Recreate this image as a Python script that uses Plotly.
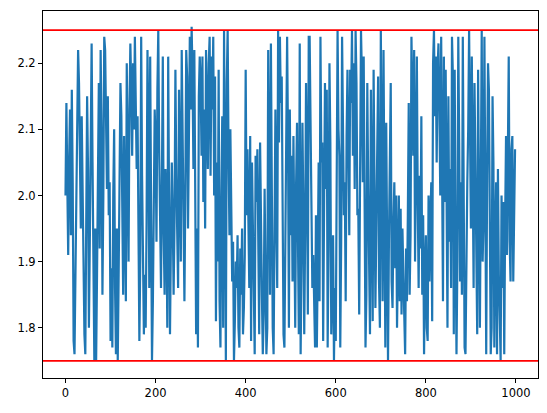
import numpy as np
import plotly.graph_objects as go

values = [
    2.00, 2.14, 2.02, 1.91, 2.05, 2.13, 1.94, 2.16, 2.02, 1.78,
    1.76, 1.90, 2.02, 2.10, 2.22, 2.17, 2.05, 1.95, 2.12, 2.00,
    1.85, 1.79, 1.76, 1.92, 2.15, 2.04, 1.80, 1.93, 2.10, 2.23,
    2.05, 1.83, 1.75, 1.95, 1.75, 1.88, 2.06, 2.17, 1.92, 2.22,
    2.10, 1.85, 2.00, 2.24, 2.22, 2.08, 2.01, 2.15, 1.97, 2.02,
    1.78, 1.89, 1.77, 2.00, 2.10, 1.86, 1.76, 1.95, 1.75, 1.88,
    2.05, 2.17, 2.12, 1.98, 1.85, 2.09, 1.95, 1.84, 2.20, 2.07,
    1.90, 2.13, 2.23, 2.16, 2.06, 2.20, 2.10, 2.24, 2.15, 2.04,
    2.12, 1.96, 1.78, 1.90, 2.24, 2.03, 1.94, 1.79, 1.88, 1.80,
    1.96, 2.22, 2.10, 1.86, 2.21, 1.95, 1.75, 1.84, 2.00, 2.13,
    2.08, 1.93, 2.16, 2.25, 2.07, 1.97, 1.86, 2.02, 2.21, 1.94,
    1.85, 2.04, 1.97, 1.80, 2.21, 1.98, 1.79, 1.93, 2.05, 1.97,
    1.85, 1.96, 2.19, 2.03, 1.92, 1.86, 2.16, 2.03, 1.90, 2.22,
    2.11, 1.97, 1.84, 2.00, 2.22, 2.18, 1.95, 2.09, 2.24, 2.13,
    2.255, 2.18, 2.04, 2.22, 1.93, 1.79, 1.95, 1.77, 2.15, 2.21,
    2.17, 2.06, 2.21, 1.99, 2.13, 1.95, 2.22, 2.11, 2.04, 2.20,
    2.24, 2.03, 2.21, 2.13, 2.24, 2.00, 2.18, 1.81, 2.05, 1.90,
    2.19, 1.84, 1.77, 2.00, 2.12, 1.80, 2.25, 2.02, 1.75, 2.17,
    2.25, 2.06, 1.94, 2.10, 1.96, 1.87, 1.93, 1.75, 1.81, 1.90,
    1.86, 1.94, 1.80, 1.77, 1.92, 1.85, 1.95, 1.79, 1.83, 1.91,
    2.19, 1.97, 2.07, 1.89, 1.86, 2.09, 1.78, 2.05, 1.95, 1.83,
    1.76, 2.06, 1.99, 2.07, 1.86, 1.79, 2.08, 1.92, 1.85, 1.76,
    1.82, 2.01, 1.91, 1.76, 1.80, 2.22, 2.04, 1.85, 2.23, 1.92,
    1.80, 1.76, 1.90, 2.13, 1.97, 1.86, 2.25, 2.08, 2.24, 2.14,
    2.18, 1.95, 1.79, 1.77, 1.92, 2.17, 2.24, 2.08, 1.80, 2.13,
    1.94, 2.06, 1.87, 2.09, 1.93, 1.80, 2.02, 2.11, 1.94, 1.79,
    2.23, 1.76, 1.90, 2.11, 1.98, 1.79, 1.94, 2.17, 2.05, 1.82,
    2.24, 2.24, 2.11, 1.95, 1.86, 1.91, 1.81, 1.77, 1.97, 1.77,
    1.90, 2.05, 1.84, 2.24, 2.05, 2.08, 1.78, 1.97, 2.17, 2.01,
    2.16, 1.77, 1.92, 2.20, 2.08, 1.79, 1.90, 1.94, 1.75, 1.86,
    1.78, 2.04, 2.25, 2.10, 2.06, 1.77, 1.93, 2.24, 2.03, 1.97,
    2.02, 1.84, 2.09, 2.19, 2.08, 1.94, 2.19, 2.14, 2.25, 2.06,
    2.20, 2.01, 2.25, 2.17, 1.97, 1.98, 1.82, 2.10, 2.25, 2.18,
    2.02, 2.21, 1.93, 1.77, 1.85, 2.17, 2.01, 1.83, 1.79, 2.16,
    1.90, 1.81, 2.19, 2.06, 1.83, 1.95, 2.08, 2.18, 1.87, 1.80,
    2.25, 2.09, 1.84, 2.22, 2.01, 1.77, 2.11, 1.98, 1.75, 1.93,
    2.02, 2.17, 1.87, 1.83, 1.96, 2.02, 1.89, 2.00, 1.80, 1.93,
    2.00, 1.84, 1.98, 1.82, 1.95, 1.88, 1.79, 1.76, 1.92, 1.84,
    1.97, 2.14, 1.85, 1.94, 2.24, 2.16, 2.06, 2.22, 1.90, 2.05,
    2.21, 1.99, 1.86, 2.03, 1.92, 2.12, 1.85, 1.97, 1.76, 1.88,
    1.94, 1.80, 1.78, 2.00, 1.87, 1.96, 2.02, 1.81, 2.20, 2.25,
    2.12, 2.21, 2.05, 2.19, 2.23, 2.13, 2.00, 2.24, 2.08, 1.84,
    2.21, 1.99, 2.19, 1.89, 1.80, 2.15, 1.93, 2.04, 1.86, 2.24,
    2.18, 1.79, 2.19, 1.93, 1.76, 1.90, 2.24, 2.08, 1.87, 2.02,
    1.85, 2.24, 1.92, 1.77, 1.76, 1.92, 2.02, 2.10, 2.25, 2.10,
    1.95, 2.21, 2.04, 1.86, 2.17, 2.02, 1.96, 1.79, 2.19, 1.89,
    1.80, 2.02, 2.25, 1.90, 1.96, 2.24, 1.92, 1.76, 2.03, 2.20,
    2.16, 1.95, 1.76, 1.80, 2.15, 2.05, 1.77, 1.93, 2.02, 1.76,
    2.04, 1.88, 1.79, 1.75, 2.00, 1.86, 1.99, 1.76, 1.96, 2.09,
    1.91, 2.13, 2.21, 1.93, 1.87, 2.07, 2.09, 1.87, 2.00, 2.07,
]
x_step = 2
x_values = [i * x_step for i in range(len(values))]

upper_limit = 2.25
lower_limit = 1.75

x_ticks = [0, 200, 400, 600, 800, 1000]
y_ticks = [1.8, 1.9, 2.0, 2.1, 2.2]

fig = go.Figure()
fig.add_trace(go.Scatter(
    x=x_values, y=values, mode="lines",
    line=dict(color="#1f77b4", width=2.2),
    showlegend=False,
))
for lim in (upper_limit, lower_limit):
    fig.add_shape(type="line", xref="paper", x0=0, x1=1, yref="y", y0=lim, y1=lim,
                  line=dict(color="red", width=1.7))

axis_common = dict(
    showline=True, mirror=True, linecolor="black", linewidth=1,
    ticks="outside", ticklen=4, tickwidth=1, tickcolor="black",
    showgrid=False, zeroline=False,
    tickfont=dict(family="DejaVu Sans", size=11.5, color="black"),
)
fig.update_xaxes(range=[-49.95, 1048.95], tickvals=x_ticks,
                 ticktext=[str(t) for t in x_ticks], **axis_common)
fig.update_yaxes(range=[1.724, 2.279], tickvals=y_ticks,
                 ticktext=[f"{t:.1f}" for t in y_ticks], **axis_common)
fig.update_layout(
    width=547, height=413,
    margin=dict(l=43, r=9, t=11, b=35),
    paper_bgcolor="white", plot_bgcolor="white",
)
fig.write_html("out.html", config={"displayModeBar": False},
               post_script="document.body.style.margin='0';document.body.style.padding='0';")
